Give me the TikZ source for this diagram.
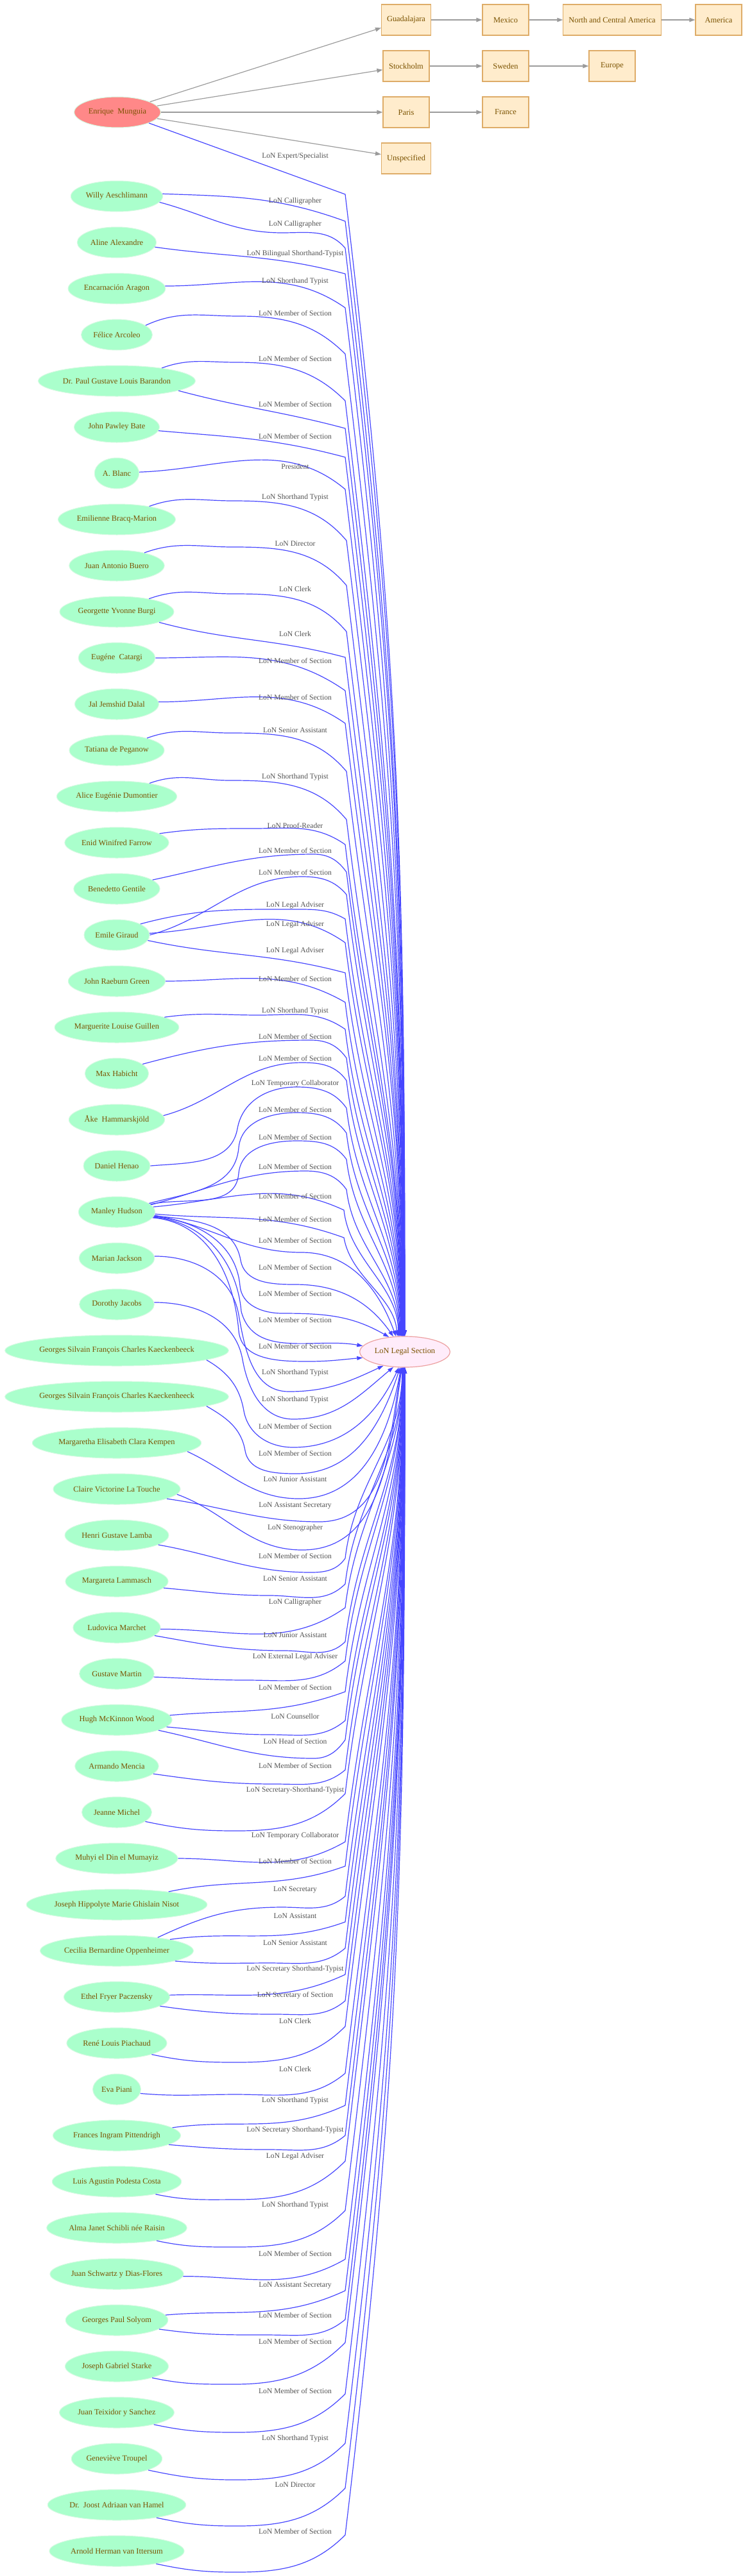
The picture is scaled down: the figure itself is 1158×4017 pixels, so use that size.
\documentclass[tikz,border=0pt]{standalone}
\usepackage{fontspec}
\setmainfont{Liberation Serif}
\usetikzlibrary{arrows.meta,positioning,shapes.geometric}
\definecolor{mint}{RGB}{170,255,204}
\definecolor{mintline}{RGB}{214,250,226}
\definecolor{salmon}{RGB}{255,136,136}
\definecolor{blush}{RGB}{255,236,250}
\definecolor{blushline}{RGB}{236,160,160}
\definecolor{cream}{RGB}{255,236,204}
\definecolor{boxline}{RGB}{222,172,104}
\definecolor{namebrown}{RGB}{122,82,0}
\definecolor{rolegray}{RGB}{82,82,82}
\definecolor{tieblue}{RGB}{70,70,255}
\definecolor{linkgray}{RGB}{155,155,155}
\newcommand{\namefont}{\fontsize{12.4pt}{14pt}\selectfont}
\newcommand{\rolefont}{\fontsize{11.6pt}{13pt}\selectfont}
\tikzset{
    person/.style = {ellipse, fill=mint, draw=mintline, line width=1pt,
        text=namebrown, font=\namefont, inner xsep=2.5pt, inner ysep=2pt,
        minimum height=48pt},
    expert/.style = {person, fill=salmon},
    section/.style = {person, fill=blush, draw=blushline, line width=1.2pt},
    place/.style = {draw=boxline, fill=cream, rectangle, line width=1.2pt,
        minimum height=48pt, minimum width=72pt, inner xsep=8.5pt,
        text=namebrown, font=\namefont},
    link/.style = {draw=linkgray, line width=1.2pt, -{Triangle[length=9pt,width=6.5pt]}},
    tie/.style = {draw=tieblue, line width=1.2pt, -{Triangle[length=9pt,width=6pt]}},
    role/.style = {text=rolegray, font=\rolefont, inner sep=0pt}
}
\begin{document}
\begin{tikzpicture}[x=1pt, y=-1pt, node distance=72pt, on grid]
    \useasboundingbox (0,0) rectangle (1158,4017);
    \node [place] (guadalajara) at (633,31) {Guadalajara};
    \node [place, right=155pt of guadalajara] (mexico) {Mexico};
    \node [place, right=166pt of mexico] (ncamerica) {North and Central America};
    \node [place, right=166pt of ncamerica] (america) {America};
    \node [place, below=of guadalajara] (stockholm) {Stockholm};
    \node [place, right=155pt of stockholm] (sweden) {Sweden};
    \node [place, right=166pt of sweden] (europe) {Europe};
    \node [place, below=of stockholm] (paris) {Paris};
    \node [place, right=155pt of paris] (france) {France};
    \node [place, below=of paris] (unspecified) {Unspecified};
    \node [expert] (munguia) at (183,175) {Enrique\ \ Munguia};
    \node [section] (legal) at (631,2108) {LoN Legal Section};

    \node [person] (aeschlimann) at (182,306) {Willy Aeschlimann};
    \node [person, below=of aeschlimann] (alexandre) {Aline Alexandre};
    \node [person, below=of alexandre] (aragon) {Encarnación Aragon};
    \node [person, below=of aragon] (arcoleo) {Félice Arcoleo};
    \node [person, below=of arcoleo] (barandon) {Dr. Paul Gustave Louis Barandon};
    \node [person, below=of barandon] (bate) {John Pawley Bate};
    \node [person, below=of bate] (blanc) {A. Blanc};
    \node [person, below=of blanc] (bracq) {Emilienne Bracq-Marion};
    \node [person, below=of bracq] (buero) {Juan Antonio Buero};
    \node [person, below=of buero] (burgi) {Georgette Yvonne Burgi};
    \node [person, below=of burgi] (catargi) {Eugéne\ \ Catargi};
    \node [person, below=of catargi] (dalal) {Jal Jemshid Dalal};
    \node [person, below=of dalal] (peganow) {Tatiana de Peganow};
    \node [person, below=of peganow] (dumontier) {Alice Eugénie Dumontier};
    \node [person, below=of dumontier] (farrow) {Enid Winifred Farrow};
    \node [person, below=of farrow] (gentile) {Benedetto Gentile};
    \node [person, below=of gentile] (giraud) {Emile Giraud};
    \node [person, below=of giraud] (green) {John Raeburn Green};
    \node [person, below=of green] (guillen) {Marguerite Louise Guillen};
    \node [person, below=of guillen] (habicht) {Max Habicht};
    \node [person, below=of habicht] (hammarskjold) {Åke\ \ Hammarskjöld};
    \node [person, below=of hammarskjold] (henao) {Daniel Henao};
    \node [person, below=of henao] (hudson) {Manley Hudson};
    \node [person, below=of hudson] (jackson) {Marian Jackson};
    \node [person, below=of jackson] (jacobs) {Dorothy Jacobs};
    \node [person, below=of jacobs] (kaeckA) {Georges Silvain François Charles Kaeckenbeeck};
    \node [person, below=of kaeckA] (kaeckB) {Georges Silvain François Charles Kaeckenheeck};
    \node [person, below=of kaeckB] (kempen) {Margaretha Elisabeth Clara Kempen};
    \node [person, below=of kempen] (latouche) {Claire Victorine La Touche};
    \node [person, below=of latouche] (lamba) {Henri Gustave Lamba};
    \node [person, below=of lamba] (lammasch) {Margareta Lammasch};
    \node [person, below=of lammasch] (marchet) {Ludovica Marchet};
    \node [person, below=of marchet] (martin) {Gustave Martin};
    \node [person, below=of martin] (wood) {Hugh McKinnon Wood};
    \node [person, below=of wood] (mencia) {Armando Mencia};
    \node [person, below=of mencia] (michel) {Jeanne Michel};
    \node [person, below=of michel] (mumayiz) {Muhyi el Din el Mumayiz};
    \node [person, below=of mumayiz] (nisot) {Joseph Hippolyte Marie Ghislain Nisot};
    \node [person, below=of nisot] (oppenheimer) {Cecilia Bernardine Oppenheimer};
    \node [person, below=of oppenheimer] (paczensky) {Ethel Fryer Paczensky};
    \node [person, below=of paczensky] (piachaud) {René Louis Piachaud};
    \node [person, below=of piachaud] (piani) {Eva Piani};
    \node [person, below=of piani] (pittendrigh) {Frances Ingram Pittendrigh};
    \node [person, below=of pittendrigh] (podesta) {Luis Agustin Podesta Costa};
    \node [person, below=of podesta] (schibli) {Alma Janet Schibli née Raisin};
    \node [person, below=of schibli] (schwartz) {Juan Schwartz y Dias-Flores};
    \node [person, below=of schwartz] (solyom) {Georges Paul Solyom};
    \node [person, below=of solyom] (starke) {Joseph Gabriel Starke};
    \node [person, below=of starke] (teixidor) {Juan Teixidor y Sanchez};
    \node [person, below=of teixidor] (troupel) {Geneviève Troupel};
    \node [person, below=of troupel] (vanhamel) {Dr.\ \ Joost Adriaan van Hamel};
    \node [person, below=of vanhamel] (ittersum) {Arnold Herman van Ittersum};

    \draw [link] (munguia) -- (guadalajara);
    \draw [link] (munguia) -- (stockholm);
    \draw [link] (munguia) -- (paris);
    \draw [link] (munguia) -- (unspecified);
    \draw [link] (guadalajara) -- (mexico);
    \draw [link] (mexico) -- (ncamerica);
    \draw [link] (ncamerica) -- (america);
    \draw [link] (stockholm) -- (sweden);
    \draw [link] (sweden) -- (europe);
    \draw [link] (paris) -- (france);

    \draw [tie] (munguia.-19) to[out=-20,in=160] (538,303) .. controls +(85,712) and +(0,-712) .. (legal.90) node [role] (r0) at (460,244) {LoN Expert/Specialist};
    \draw [tie] (aeschlimann.3) to[out=-2,in=160] (538,345) .. controls +(84,696) and +(0,-696) .. (legal.90) node [role] (r1) at (460,314) {LoN Calligrapher};
    \draw [tie] (aeschlimann.-8) to[out=-15,in=180] (440,363) to[out=0,in=130] (538,387) .. controls +(81,679) and +(0,-679) .. (legal.91) node [role] (r2) at (460,350) {LoN Calligrapher};
    \draw [tie] (alexandre.-7) to[out=-8,in=165] (538,427) .. controls +(80,663) and +(0,-663) .. (legal.91) node [role] (r3) at (460,396) {LoN Bilingual Shorthand-Typist};
    \draw [tie] (aragon.3) to[out=0,in=145] (538,480) .. controls +(77,642) and +(0,-642) .. (legal.92) node [role] (r4) at (460,439) {LoN Shorthand Typist};
    \draw [tie] (arcoleo.18) to[out=25,in=180] (372,493) to[out=0,in=135] (538,552) .. controls +(74,613) and +(0,-613) .. (legal.92) node [role] (r5) at (460,488) {LoN Member of Section};
    \draw [tie] (barandon.16) to[out=20,in=180] (368,565) to[out=0,in=135] (538,625) .. controls +(70,584) and +(0,-584) .. (legal.93) node [role] (r6) at (460,559) {LoN Member of Section};
    \draw [tie] (barandon.-9) to[out=-15,in=165] (538,668) .. controls +(68,566) and +(0,-566) .. (legal.93) node [role] (r7) at (460,630) {LoN Member of Section};
    \draw [tie] (bate.-5) to[out=-5,in=165] (538,713) .. controls +(66,548) and +(0,-548) .. (legal.94) node [role] (r8) at (460,680) {LoN Member of Section};
    \draw [tie] (blanc.3) to[out=2,in=140] (538,763) .. controls +(63,528) and +(0,-528) .. (legal.94) node [role] (r9) at (460,728) {President};
    \draw [tie] (bracq.22) to[out=20,in=180] (363,781) to[out=0,in=130] (540,843) .. controls +(60,496) and +(0,-496) .. (legal.95) node [role] (r10) at (460,776) {LoN Shorthand Typist};
    \draw [tie] (buero.25) to[out=20,in=180] (363,853) to[out=0,in=130] (540,913) .. controls +(56,468) and +(0,-468) .. (legal.95) node [role] (r11) at (460,848) {LoN Director};
    \draw [tie] (burgi.22) to[out=20,in=180] (363,926) to[out=0,in=130] (540,985) .. controls +(53,440) and +(0,-440) .. (legal.96) node [role] (r12) at (460,919) {LoN Clerk};
    \draw [tie] (burgi.-14) to[out=-15,in=165] (538,1025) .. controls +(51,424) and +(0,-424) .. (legal.96) node [role] (r13) at (460,989) {LoN Clerk};
    \draw [tie] (catargi.0) to[out=0,in=145] (538,1077) .. controls +(48,403) and +(0,-403) .. (legal.97) node [role] (r14) at (460,1030) {LoN Member of Section};
    \draw [tie] (dalal.3) to[out=0,in=145] (538,1128) .. controls +(46,382) and +(0,-382) .. (legal.97) node [role] (r15) at (460,1087) {LoN Member of Section};
    \draw [tie] (peganow.22) to[out=20,in=180] (359,1143) to[out=0,in=130] (540,1203) .. controls +(42,352) and +(0,-352) .. (legal.98) node [role] (r16) at (460,1139) {LoN Senior Assistant};
    \draw [tie] (dumontier.22) to[out=20,in=180] (359,1217) to[out=0,in=130] (540,1278) .. controls +(39,322) and +(0,-322) .. (legal.98) node [role] (r17) at (460,1212) {LoN Shorthand Typist};
    \draw [tie] (farrow.12) to[out=8,in=180] (395,1292) to[out=0,in=145] (538,1317) .. controls +(37,307) and +(0,-307) .. (legal.99) node [role] (r18) at (460,1287) {LoN Proof-Reader};
    \draw [tie] (gentile.14) to[out=12,in=180] (489,1332) to[out=0,in=125] (540,1360) .. controls +(35,290) and +(0,-290) .. (legal.99) node [role] (r19) at (460,1326) {LoN Member of Section};
    \draw [tie] (giraud.0) to[out=15,in=180] (471,1367) to[out=0,in=130] (540,1395) .. controls +(33,276) and +(0,-276) .. (legal.100) node [role] (r20) at (460,1360) {LoN Member of Section};
    \draw [tie] (giraud.25) to[out=15,in=180] (462,1418) to[out=0,in=150] (538,1433) .. controls +(31,260) and +(0,-260) .. (legal.100) node [role] (r21) at (460,1412) {LoN Legal Adviser};
    \draw [tie] (giraud.3) to[out=3,in=145] (538,1470) .. controls +(30,246) and +(0,-246) .. (legal.101) node [role] (r22) at (460,1442) {LoN Legal Adviser};
    \draw [tie] (giraud.-10) to[out=-12,in=165] (538,1517) .. controls +(27,227) and +(0,-227) .. (legal.101) node [role] (r23) at (460,1483) {LoN Legal Adviser};
    \draw [tie] (green.0) to[out=0,in=150] (538,1563) .. controls +(25,208) and +(0,-208) .. (legal.102) node [role] (r24) at (460,1526) {LoN Member of Section};
    \draw [tie] (guillen.12) to[out=8,in=180] (404,1583) to[out=0,in=145] (538,1605) .. controls +(23,192) and +(0,-192) .. (legal.102) node [role] (r25) at (460,1577) {LoN Shorthand Typist};
    \draw [tie] (habicht.20) to[out=15,in=180] (485,1622) to[out=0,in=125] (540,1650) .. controls +(21,174) and +(0,-174) .. (legal.103) node [role] (r26) at (460,1616) {LoN Member of Section};
    \draw [tie] (hammarskjold.5) to[out=15,in=180] (471,1657) to[out=0,in=125] (540,1685) .. controls +(19,160) and +(0,-160) .. (legal.104) node [role] (r27) at (460,1650) {LoN Member of Section};
    \draw [tie] (henao.0) to[out=5,in=-100] (370,1760) to[out=80,in=180] (462,1695) to[out=0,in=125] (540,1728) .. controls +(17,142) and +(0,-142) .. (legal.105) node [role] (r28) at (460,1690) {LoN Temporary Collaborator};
    \draw [tie] (hudson.15) to[out=15,in=-95] (372,1790) to[out=85,in=180] (462,1735) to[out=0,in=125] (540,1767) .. controls +(15,127) and +(0,-127) .. (legal.107) node [role] (r29) at (460,1730) {LoN Member of Section};
    \draw [tie] (hudson.13) to[out=12,in=-95] (372,1830) to[out=85,in=180] (462,1779) to[out=0,in=125] (540,1808) .. controls +(13,110) and +(0,-110) .. (legal.109) node [role] (r30) at (460,1773) {LoN Member of Section};
    \draw [tie] (hudson.12) to[out=15,in=180] (476,1826) to[out=0,in=125] (540,1855) .. controls +(11,92) and +(0,-92) .. (legal.111) node [role] (r31) at (460,1819) {LoN Member of Section};
    \draw [tie] (hudson.8) to[out=5,in=155] (536,1887) .. controls +(9,79) and +(0,-79) .. (legal.113) node [role] (r32) at (460,1865) {LoN Member of Section};
    \draw [tie] (hudson.-3) to[out=-5,in=160] (536,1930) .. controls +(11,62) and +(-5,-62) .. (legal.116) node [role] (r33) at (460,1901) {LoN Member of Section};
    \draw [tie] (hudson.-5) to[out=-10,in=180] (470,1953) to[out=0,in=110] (legal.120) node [role] (r34) at (460,1934) {LoN Member of Section};
    \draw [tie] (hudson.-6) to[out=-5,in=100] (375,1965) to[out=-80,in=180] (460,2003) to[out=0,in=125] (legal.127) node [role] (r35) at (460,1976) {LoN Member of Section};
    \draw [tie] (hudson.-7) to[out=-5,in=95] (374,2005) to[out=-85,in=180] (440,2048) to[out=0,in=150] (legal.137) node [role] (r36) at (460,2017) {LoN Member of Section};
    \draw [tie] (hudson.-8) to[out=-5,in=95] (376,2045) to[out=-75,in=170] (legal.172) node [role] (r37) at (460,2058) {LoN Member of Section};
    \draw [tie] (hudson.-9) to[out=-5,in=95] (372,2075) to[out=-85,in=180] (480,2123) to[out=0,in=185] (legal.188) node [role] (r38) at (460,2099) {LoN Member of Section};

    \draw [tie] (jackson.3) to[out=0,in=100] (372,2050) to[out=-80,in=180] (450,2170) to[out=0,in=-155] (legal.213) node [role] (r39) at (460,2141) {LoN Shorthand Typist};
    \draw [tie] (jacobs.3) to[out=0,in=100] (378,2120) to[out=-80,in=180] (457,2213) to[out=0,in=-140] (legal.233) node [role] (r40) at (460,2183) {LoN Shorthand Typist};
    \draw [tie] (kaeckA.-6) to[out=-30,in=100] (380,2200) to[out=-80,in=180] (457,2257) to[out=0,in=-115] (legal.249) node [role] (r41) at (460,2224) {LoN Member of Section};
    \draw [tie] (kaeckB.-6) to[out=-30,in=100] (382,2262) to[out=-80,in=180] (462,2298) to[out=0,in=-108] (legal.253) node [role] (r42) at (460,2266) {LoN Member of Section};
    \draw [tie] (kempen.-7) to[out=-25,in=180] (466,2337) to[out=0,in=-100] (legal.256) node [role] (r43) at (460,2307) {LoN Junior Assistant};
    \draw [tie] (latouche.-11) to[out=-8,in=180] (498,2373) to[out=0,in=-100] (legal.258) node [role] (r44) at (460,2348) {LoN Assistant Secretary};
    \draw [tie] (latouche.-5) to[out=-20,in=180] (471,2417) to[out=0,in=-98] (legal.259) node [role] (r45) at (460,2383) {LoN Stenographer};
    \draw [tie] (lamba.-13) to[out=-10,in=180] (485,2452) to[out=0,in=-125] (538,2430) .. controls +(14,-119) and +(0,119) .. (legal.260) node [role] (r46) at (460,2426) {LoN Member of Section};
    \draw [tie] (lammasch.-8) to[out=-5,in=180] (421,2488) to[out=0,in=-135] (538,2470) .. controls +(16,-135) and +(0,135) .. (legal.261) node [role] (r47) at (460,2462) {LoN Senior Assistant};
    \draw [tie] (marchet.-2) to[out=0,in=-145] (538,2507) .. controls +(18,-150) and +(0,150) .. (legal.261) node [role] (r48) at (460,2499) {LoN Calligrapher};
    \draw [tie] (marchet.-12) to[out=-10,in=180] (444,2574) to[out=0,in=-135] (538,2560) .. controls +(21,-171) and +(0,171) .. (legal.262) node [role] (r49) at (460,2550) {LoN Junior Assistant};
    \draw [tie] (martin.-5) to[out=-2,in=180] (386,2620) to[out=0,in=-140] (538,2590) .. controls +(22,-183) and +(0,183) .. (legal.262) node [role] (r50) at (460,2584) {LoN External Legal Adviser};
    \draw [tie] (wood.5) to[out=5,in=-160] (538,2638) .. controls +(24,-202) and +(0,202) .. (legal.263) node [role] (r51) at (460,2631) {LoN Member of Section};
    \draw [tie] (wood.-8) to[out=-5,in=180] (421,2705) to[out=0,in=-140] (538,2683) .. controls +(26,-220) and +(0,220) .. (legal.263) node [role] (r52) at (460,2676) {LoN Counsellor};
    \draw [tie] (wood.-14) to[out=-12,in=180] (489,2742) to[out=0,in=-125] (538,2713) .. controls +(28,-232) and +(0,232) .. (legal.264) node [role] (r53) at (460,2715) {LoN Head of Section};
    \draw [tie] (mencia.-12) to[out=-8,in=180] (430,2782) to[out=0,in=-140] (538,2760) .. controls +(30,-251) and +(0,251) .. (legal.264) node [role] (r54) at (460,2753) {LoN Member of Section};
    \draw [tie] (michel.-18) to[out=-12,in=180] (368,2855) to[out=0,in=-135] (538,2797) .. controls +(32,-266) and +(0,266) .. (legal.265) node [role] (r55) at (460,2792) {LoN Secretary-Shorthand-Typist};
    \draw [tie] (mumayiz.0) to[out=0,in=-150] (538,2872) .. controls +(36,-296) and +(0,296) .. (legal.265) node [role] (r56) at (460,2863) {LoN Temporary Collaborator};
    \draw [tie] (nisot.14) to[out=12,in=-160] (538,2910) .. controls +(37,-311) and +(0,311) .. (legal.266) node [role] (r57) at (460,2902) {LoN Member of Section};
    \draw [tie] (oppenheimer.18) to[out=25,in=180] (440,2974) to[out=0,in=-140] (538,2957) .. controls +(40,-330) and +(0,330) .. (legal.266) node [role] (r58) at (460,2947) {LoN Secretary};
    \draw [tie] (oppenheimer.12) to[out=8,in=-160] (538,2997) .. controls +(42,-346) and +(0,346) .. (legal.266) node [role] (r59) at (460,2988) {LoN Assistant};
    \draw [tie] (oppenheimer.-10) to[out=-5,in=180] (421,3061) to[out=0,in=-140] (538,3038) .. controls +(43,-362) and +(0,362) .. (legal.267) node [role] (r60) at (460,3030) {LoN Senior Assistant};
    \draw [tie] (paczensky.2) to[out=2,in=-155] (538,3079) .. controls +(45,-379) and +(0,379) .. (legal.267) node [role] (r61) at (460,3071) {LoN Secretary Shorthand-Typist};
    \draw [tie] (paczensky.-12) to[out=-8,in=180] (431,3141) to[out=0,in=-140] (538,3120) .. controls +(47,-395) and +(0,395) .. (legal.267) node [role] (r62) at (460,3112) {LoN Secretary of Section};
    \draw [tie] (piachaud.-18) to[out=-12,in=180] (368,3216) to[out=0,in=-135] (538,3160) .. controls +(49,-411) and +(0,411) .. (legal.268) node [role] (r63) at (460,3151) {LoN Clerk};
    \draw [tie] (piani.-10) to[out=-5,in=180] (368,3266) to[out=0,in=-140] (538,3233) .. controls +(53,-440) and +(0,440) .. (legal.268) node [role] (r64) at (460,3226) {LoN Clerk};
    \draw [tie] (pittendrigh.8) to[out=8,in=-155] (538,3283) .. controls +(55,-460) and +(0,460) .. (legal.268) node [role] (r65) at (460,3276) {LoN Shorthand Typist};
    \draw [tie] (pittendrigh.-10) to[out=-5,in=180] (421,3352) to[out=0,in=-140] (538,3330) .. controls +(57,-479) and +(0,479) .. (legal.269) node [role] (r66) at (460,3322) {LoN Secretary Shorthand-Typist};
    \draw [tie] (podesta.-18) to[out=-12,in=180] (368,3430) to[out=0,in=-135] (538,3370) .. controls +(59,-495) and +(0,495) .. (legal.269) node [role] (r67) at (460,3363) {LoN Legal Adviser};
    \draw [tie] (schibli.-18) to[out=-12,in=180] (368,3504) to[out=0,in=-135] (538,3447) .. controls +(63,-526) and +(0,526) .. (legal.269) node [role] (r68) at (460,3439) {LoN Shorthand Typist};
    \draw [tie] (schwartz.-2) to[out=0,in=-150] (538,3523) .. controls +(67,-556) and +(0,556) .. (legal.269) node [role] (r69) at (460,3514) {LoN Member of Section};
    \draw [tie] (solyom.6) to[out=5,in=-155] (538,3572) .. controls +(69,-576) and +(0,576) .. (legal.270) node [role] (r70) at (460,3564) {LoN Assistant Secretary};
    \draw [tie] (solyom.-12) to[out=-8,in=180] (417,3641) to[out=0,in=-140] (538,3617) .. controls +(71,-594) and +(0,594) .. (legal.270) node [role] (r71) at (460,3610) {LoN Member of Section};
    \draw [tie] (starke.-18) to[out=-12,in=180] (363,3718) to[out=0,in=-135] (538,3653) .. controls +(73,-608) and +(0,608) .. (legal.270) node [role] (r72) at (460,3651) {LoN Member of Section};
    \draw [tie] (teixidor.-18) to[out=-12,in=180] (368,3793) to[out=0,in=-135] (538,3733) .. controls +(77,-640) and +(0,640) .. (legal.270) node [role] (r73) at (460,3728) {LoN Member of Section};
    \draw [tie] (troupel.-20) to[out=-12,in=180] (368,3867) to[out=0,in=-135] (538,3810) .. controls +(81,-671) and +(0,671) .. (legal.270) node [role] (r74) at (460,3803) {LoN Shorthand Typist};
    \draw [tie] (vanhamel.-18) to[out=-12,in=180] (368,3939) to[out=0,in=-135] (538,3880) .. controls +(84,-699) and +(0,699) .. (legal.270) node [role] (r75) at (460,3875) {LoN Director};
    \draw [tie] (ittersum.-18) to[out=-12,in=180] (368,4011) to[out=0,in=-135] (538,3953) .. controls +(87,-728) and +(0,728) .. (legal.270) node [role] (r76) at (460,3947) {LoN Member of Section};
\end{tikzpicture}
\end{document}
